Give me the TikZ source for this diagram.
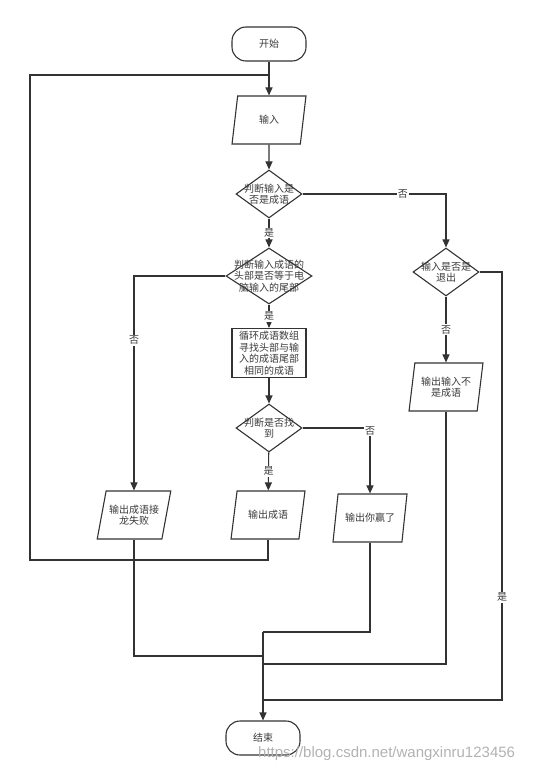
\documentclass[tikz,border=0pt]{standalone}
\usepackage{fontspec}
\setmainfont{Noto Sans CJK SC}
\newfontfamily\wmfont{Liberation Sans}
\usepackage{xcolor}
\usepackage{tikz}
\usetikzlibrary{shapes,arrows.meta,positioning,calc}
\definecolor{linec}{HTML}{333333}
\definecolor{textc}{HTML}{3A3A3A}
\tikzstyle{flowbase} =[draw=linec, line width=1.1pt, text=textc, font=\fontsize{10}{11.5}\selectfont, align=center]
\tikzstyle{term}     =[flowbase, rectangle, rounded corners=14pt, minimum width=74pt, minimum height=34pt]
\tikzstyle{proc}     =[flowbase, rectangle, minimum width=74pt, minimum height=49pt, inner sep=1pt]
\tikzstyle{io}       =[flowbase, trapezium, trapezium left angle=70, trapezium right angle=110, trapezium stretches=true, minimum width=74pt, minimum height=48pt, inner sep=1pt]
\tikzstyle{decision} =[flowbase, diamond, minimum width=66pt, minimum height=48pt, inner sep=0pt]
\tikzstyle{dtext}    =[text=textc, font=\fontsize{10}{11.5}\selectfont, align=center, inner sep=0pt]
\tikzstyle{conn}     =[draw=linec, line width=1.1pt]
\tikzstyle{arr}      =[conn, -{Triangle[length=8pt,width=7pt]}]
\tikzstyle{lbl}      =[fill=white, text=textc, inner sep=1pt, font=\fontsize{10}{11}\selectfont]

\begin{document}
\begin{tikzpicture}[x=1pt, y=-1pt]
  \useasboundingbox (0,0) rectangle (556,770);

  % ── terminals ──────────────────────────────────────────────────────────────
  \node[term] (start) at (269,44) {开始};
  \node[term] (stop)  at (263,738) {结束};

  % ── main column ────────────────────────────────────────────────────────────
  \node[io, trapezium left angle=80, trapezium right angle=100] (inp) at (269,120) {输入};
  \node[decision, label={[dtext]center:判断输入是\\否是成语}] (isidiom) at (269,194) {};
  \node[decision, minimum width=86pt, minimum height=56pt,
        label={[dtext]center:判断输入成语的\\头部是否等于电\\脑输入的尾部}] (ishead) at (269,276) {};
  \node[proc] (search) at (269,353) {循环成语数组\\寻找头部与输\\入的成语尾部\\相同的成语};
  \node[decision, label={[dtext]center:判断是否找\\到}] (found) at (269,428) {};

  % ── outputs ────────────────────────────────────────────────────────────────
  \node[io] (fail) at (134,515) {输出成语接\\龙失败};
  \node[io] (outw) at (268,515) {输出成语};
  \node[io] (win)  at (370,518) {输出你赢了};

  % ── right column ───────────────────────────────────────────────────────────
  \node[decision, label={[dtext]center:输入是否是\\退出}] (isquit) at (446,272) {};
  \node[io, trapezium left angle=78, trapezium right angle=102] (notidiom) at (446,387) {输出输入不\\是成语};

  % ── free ends of the connectors ────────────────────────────────────────────
  \coordinate (jtop)  at (269,75);
  \coordinate (lpt)   at (30,75);
  \coordinate (lpb)   at (30,560);
  \coordinate (qr)    at (502,700);
  \coordinate (mwin)  at (263,632);
  \coordinate (mfail) at (263,656);
  \coordinate (mnot)  at (263,664);
  \coordinate (mquit) at (263,700);

  % ── connectors ─────────────────────────────────────────────────────────────
  \draw[arr] (start) -- (inp);
  \draw[arr] (inp) -- (isidiom);
  \draw[arr] (isidiom) -- (ishead) node[lbl, midway] {是};
  \draw[arr] (isidiom) -| (isquit) node[lbl, pos=0.35] {否};
  \draw[arr] (ishead) -- (search) node[lbl, midway] {是};
  \draw[arr] (ishead) -| (fail) node[lbl, pos=0.65] {否};
  \draw[arr] (search) -- (found);
  \draw[arr] (found) -- (outw) node[lbl, midway] {是};
  \draw[arr] (found) -| (win) node[lbl, pos=0.52] {否};
  \draw[arr] (isquit) -- (notidiom) node[lbl, midway] {否};
  \draw[conn] (isquit) -| (qr) node[lbl, pos=0.88] {是} -- (mquit);

  % loop back to the input
  \draw[conn] (outw) |- (lpb) -- (lpt) -- (jtop);

  % merge into the end
  \draw[conn] (fail) |- (mfail);
  \draw[conn] (notidiom) |- (mnot);
  \draw[conn] (win) |- (mwin);
  \draw[arr] (mwin) -- (stop);

  % ── watermark ──────────────────────────────────────────────────────────────
  \node[font=\wmfont\fontsize{15}{15}\selectfont, text=black!30, anchor=base west, inner sep=0pt]
    (wm) at (258,757) {https://blog.csdn.net/wangxinru123456};

\end{tikzpicture}
\end{document}
